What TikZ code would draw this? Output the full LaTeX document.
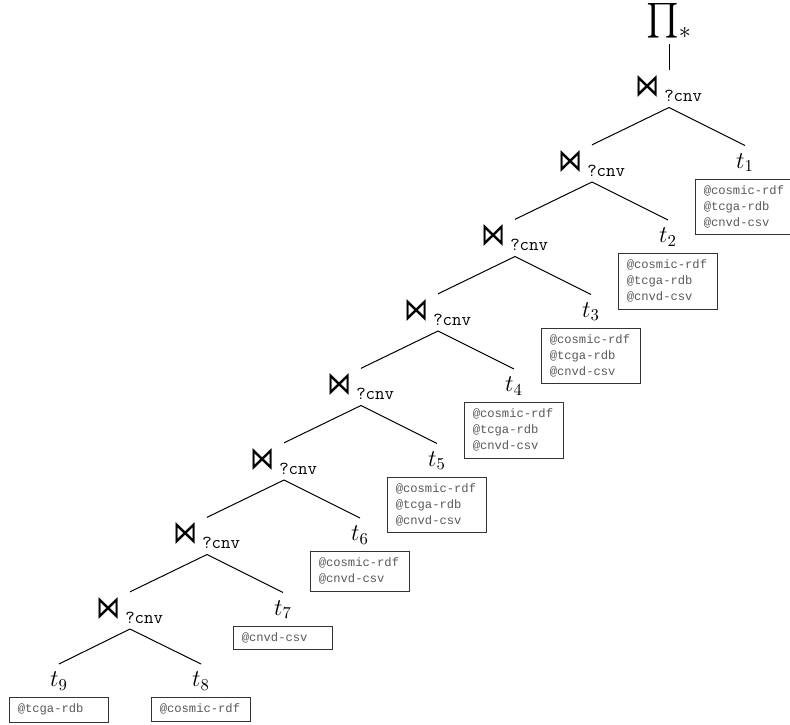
\documentclass[tikz,border=0pt]{standalone}
\usepackage{amsmath,amssymb}
\usepackage{fontspec}
\newfontfamily\srcfont{Liberation Mono}
\newfontfamily\symfont{DejaVu Sans}
\newcommand{\joinsym}{\resizebox{14.5pt}{12.6pt}{\symfont ⋈}\hspace{2.5pt}\raisebox{-3pt}{\fontsize{11}{11}\selectfont\ttfamily ?cnv}}

\begin{document}
\begin{tikzpicture}[
  x=0.6pt, y=0.6pt,
  joinop/.style={inner sep=1pt, minimum height=21.9pt, font=\Large},
  leaf/.style={inner sep=4.5pt, font=\Large},
  srcbox/.style={draw=black!80, line width=0.5pt, text width=49.5pt, align=left, inner xsep=5pt, inner ysep=4pt, font=\srcfont\fontsize{7.3}{9.6}\selectfont, text=black!65},
  link/.style={line width=0.6pt}
]
\useasboundingbox (0,0) rectangle (790,-724);

% Projection and joins
\node[joinop, anchor=south] (j1) at (669,-107.5) {\joinsym};
\node[font=\huge, inner sep=3pt, anchor=south] (pi) at ([shift={(0,26)}]j1.north) {$\prod_*$};
\node[joinop, anchor=south] (j2) at ([shift={(-77,-74.5)}]j1.south) {\joinsym};
\node[joinop, anchor=south] (j3) at ([shift={(-77,-74.5)}]j2.south) {\joinsym};
\node[joinop, anchor=south] (j4) at ([shift={(-77,-74.5)}]j3.south) {\joinsym};
\node[joinop, anchor=south] (j5) at ([shift={(-77,-74.5)}]j4.south) {\joinsym};
\node[joinop, anchor=south] (j6) at ([shift={(-77,-74.5)}]j5.south) {\joinsym};
\node[joinop, anchor=south] (j7) at ([shift={(-77,-74.5)}]j6.south) {\joinsym};
\node[joinop, anchor=south] (j8) at ([shift={(-77,-74.5)}]j7.south) {\joinsym};

% Triple patterns
\node[leaf, anchor=north] (t1) at ([shift={(76,-38)}]j1.south) {$t_1$};
\node[leaf, anchor=north] (t2) at ([shift={(76,-38)}]j2.south) {$t_2$};
\node[leaf, anchor=north] (t3) at ([shift={(76,-38)}]j3.south) {$t_3$};
\node[leaf, anchor=north] (t4) at ([shift={(76,-38)}]j4.south) {$t_4$};
\node[leaf, anchor=north] (t5) at ([shift={(76,-38)}]j5.south) {$t_5$};
\node[leaf, anchor=north] (t6) at ([shift={(76,-38)}]j6.south) {$t_6$};
\node[leaf, anchor=north] (t7) at ([shift={(76,-38)}]j7.south) {$t_7$};
\node[leaf, anchor=north] (t8) at ([shift={(71,-35)}]j8.south) {$t_8$};
\node[leaf, anchor=north] (t9) at ([shift={(-71,-35)}]j8.south) {$t_9$};

% Sources
\node[srcbox, anchor=north] (s1) at ([shift={(0,-33)}]t1.north) {@cosmic-rdf\\@tcga-rdb\\@cnvd-csv};
\node[srcbox, anchor=north] (s2) at ([shift={(0,-33)}]t2.north) {@cosmic-rdf\\@tcga-rdb\\@cnvd-csv};
\node[srcbox, anchor=north] (s3) at ([shift={(0,-33)}]t3.north) {@cosmic-rdf\\@tcga-rdb\\@cnvd-csv};
\node[srcbox, anchor=north] (s4) at ([shift={(0,-33)}]t4.north) {@cosmic-rdf\\@tcga-rdb\\@cnvd-csv};
\node[srcbox, anchor=north] (s5) at ([shift={(0,-33)}]t5.north) {@cosmic-rdf\\@tcga-rdb\\@cnvd-csv};
\node[srcbox, anchor=north] (s6) at ([shift={(0,-33)}]t6.north) {@cosmic-rdf\\@cnvd-csv};
\node[srcbox, anchor=north] (s7) at ([shift={(0,-33)}]t7.north) {@cnvd-csv};
\node[srcbox, anchor=north] (s8) at ([shift={(0,-33)}]t8.north) {@cosmic-rdf};
\node[srcbox, anchor=north] (s9) at ([shift={(0,-33)}]t9.north) {@tcga-rdb};

% Edges
\draw[link] (pi.south) -- (j1.north);
\draw[link] (j1.south) -- (j2.north);
\draw[link] (j1.south) -- (t1.north);
\draw[link] (j2.south) -- (j3.north);
\draw[link] (j2.south) -- (t2.north);
\draw[link] (j3.south) -- (j4.north);
\draw[link] (j3.south) -- (t3.north);
\draw[link] (j4.south) -- (j5.north);
\draw[link] (j4.south) -- (t4.north);
\draw[link] (j5.south) -- (j6.north);
\draw[link] (j5.south) -- (t5.north);
\draw[link] (j6.south) -- (j7.north);
\draw[link] (j6.south) -- (t6.north);
\draw[link] (j7.south) -- (j8.north);
\draw[link] (j7.south) -- (t7.north);
\draw[link] (j8.south) -- (t9.north);
\draw[link] (j8.south) -- (t8.north);
\end{tikzpicture}
\end{document}
